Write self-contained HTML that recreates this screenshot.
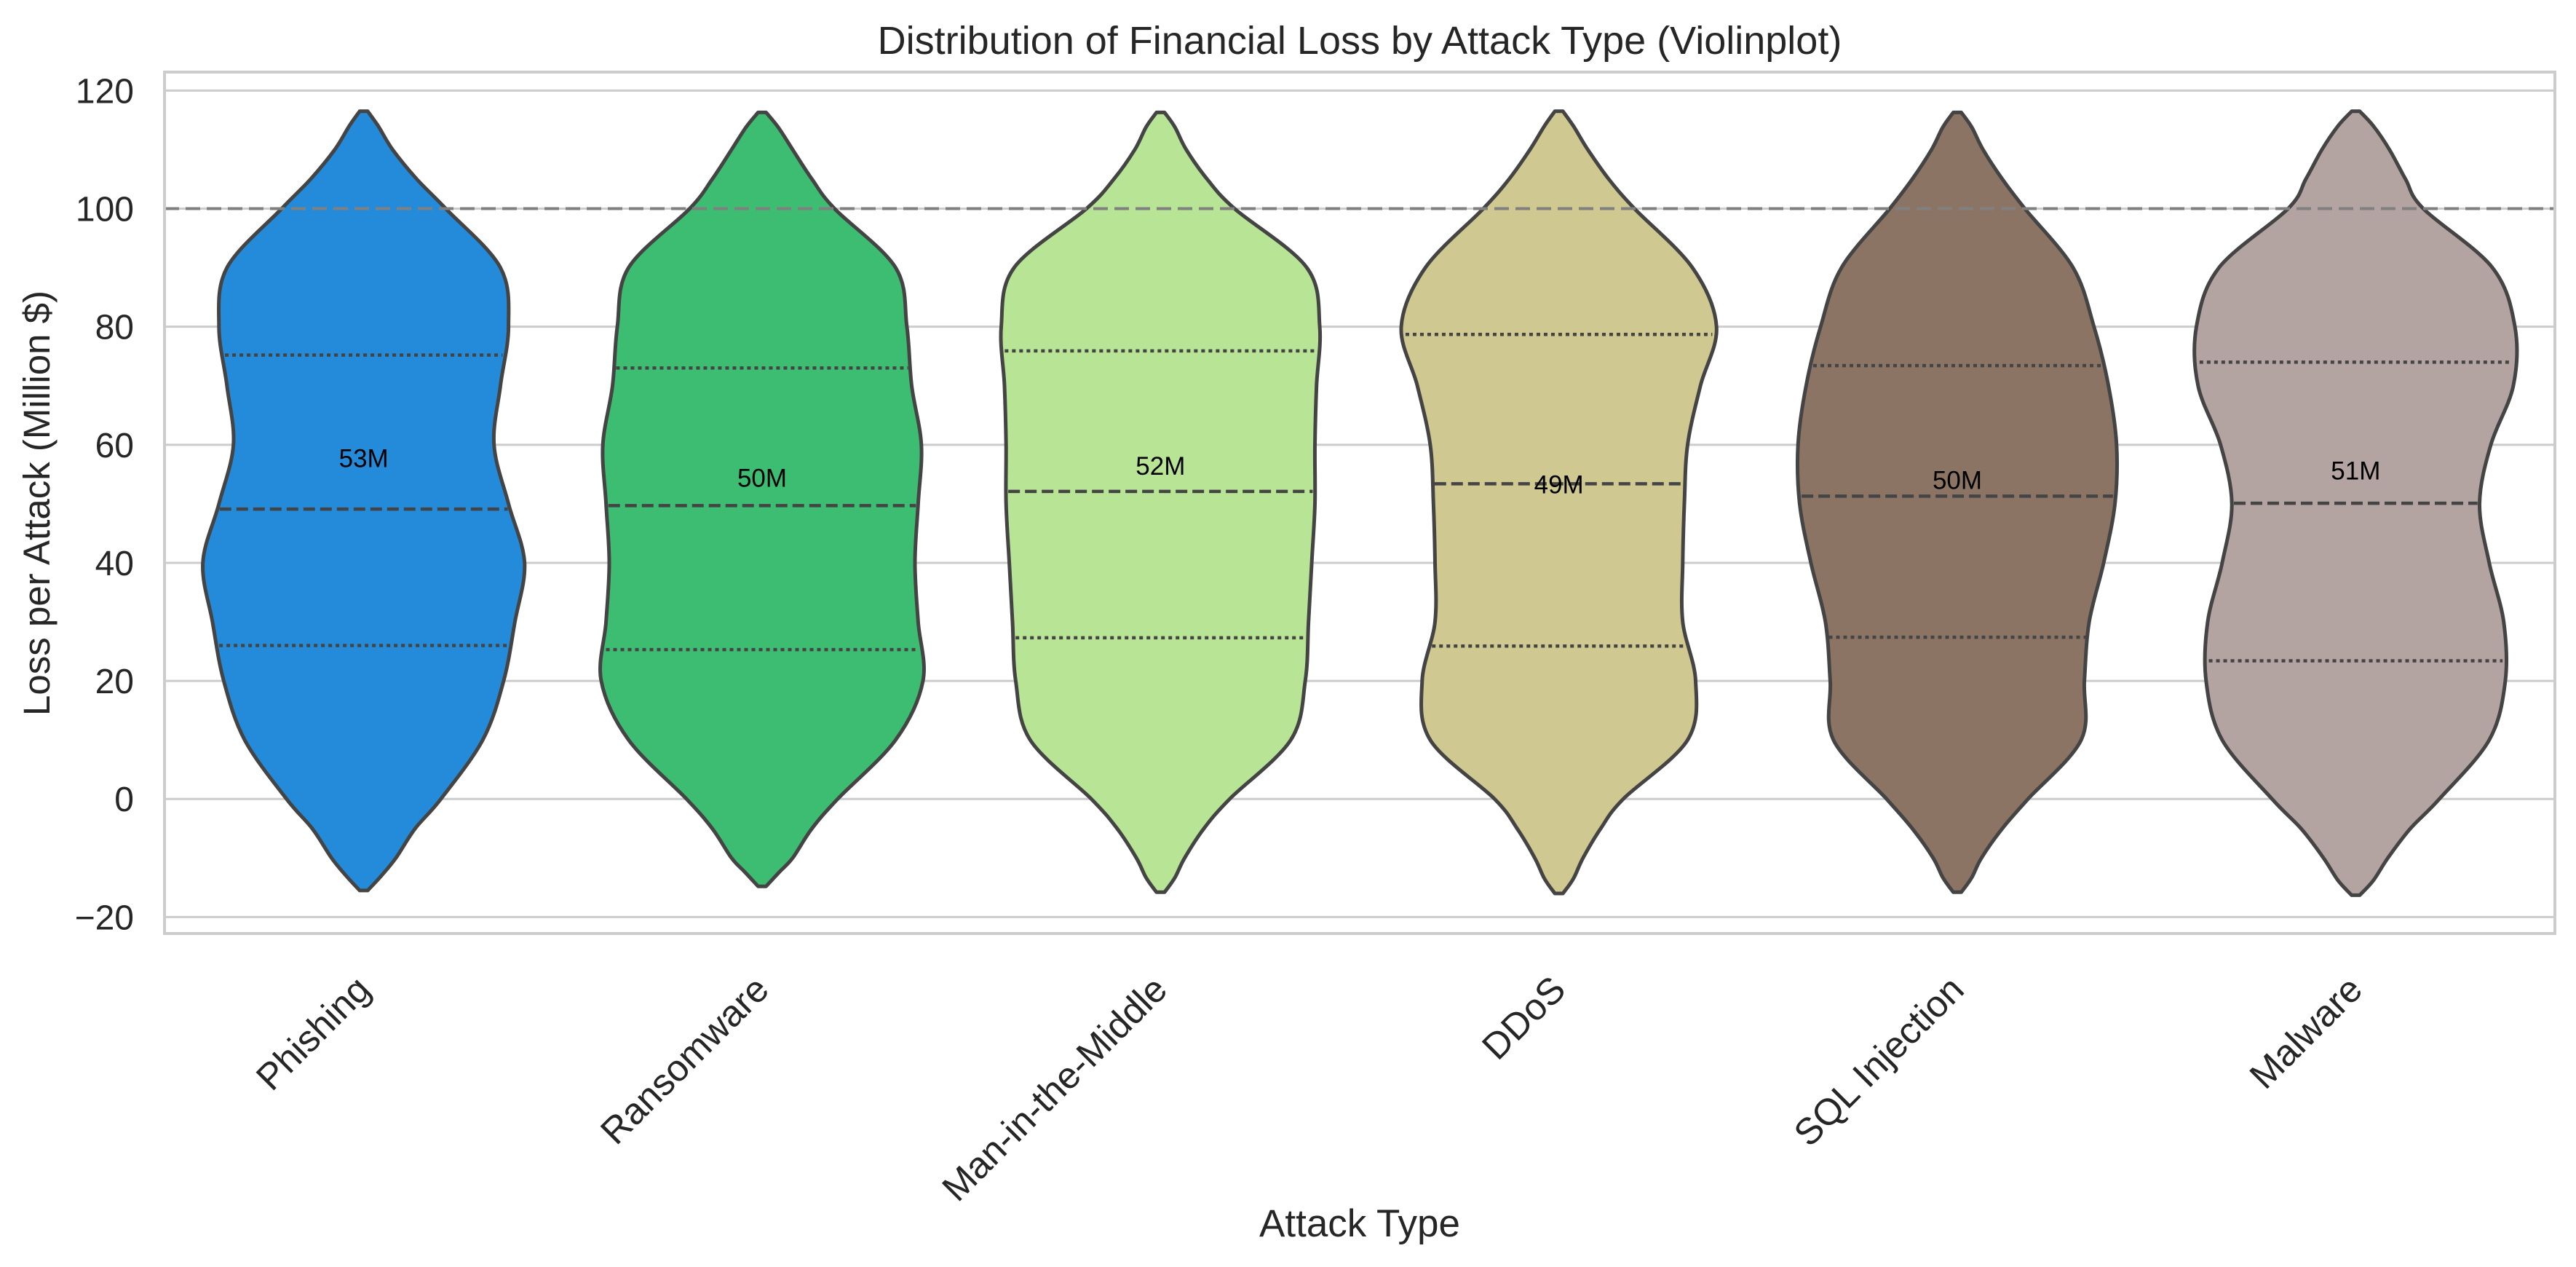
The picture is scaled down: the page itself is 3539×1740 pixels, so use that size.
<!DOCTYPE html>
<html><head><meta charset="utf-8"><style>
html,body{margin:0;padding:0;background:#fff;}
svg{display:block;font-family:"Liberation Sans",Arial,sans-serif;}
</style></head><body>
<svg id="chart" width="3539" height="1740" viewBox="0 0 3539 1740" xmlns="http://www.w3.org/2000/svg">
<rect x="0" y="0" width="3539" height="1740" fill="#fff"/>
<text x="1868" y="74" font-size="54" fill="#262626" text-anchor="middle">Distribution of Financial Loss by Attack Type (Violinplot)</text>
<text transform="translate(68,691) rotate(-90)" font-size="51" fill="#262626" text-anchor="middle">Loss per Attack (Million $)</text>
<text x="1868" y="1698" font-size="53" fill="#262626" text-anchor="middle">Attack Type</text>
<g id="grid"></g>
<g id="violins"></g>
<g id="xlabels"></g>
<rect x="226" y="99" width="3284" height="1183" fill="none" stroke="#cccccc" stroke-width="4"/>
</svg>
<script>
const categories = ["Phishing","Ransomware","Man-in-the-Middle","DDoS","SQL Injection","Malware"];
const colors = ["#238bda","#3dbd71","#b8e496","#cfc890","#8b7463","#b3a3a1"];
const yTicks = [-20,0,20,40,60,80,100,120];
const kdeY = [-10,-5,0,10,20,30,40,50,60,70,80,90,100,105,110];
const widthPhishing = [0.20,0.32,0.48,0.74,0.87,0.94,1.0,0.90,0.81,0.85,0.90,0.85,0.51,0.33,0.18];
const widthRansomware = [0.19,0.31,0.47,0.83,1.0,0.97,0.95,0.97,0.99,0.93,0.90,0.83,0.45,0.31,0.19];
const widthMitM = [0.15,0.27,0.43,0.81,0.90,0.92,0.94,0.96,0.96,0.97,0.99,0.91,0.46,0.29,0.16];
const widthDDoS = [0.15,0.26,0.40,0.80,0.85,0.77,0.77,0.78,0.80,0.88,0.98,0.83,0.47,0.31,0.18];
const widthSQL = [0.15,0.28,0.44,0.77,0.79,0.82,0.91,0.98,0.99,0.94,0.85,0.72,0.42,0.28,0.16];
const widthMalware = [0.20,0.34,0.52,0.83,0.93,0.92,0.83,0.77,0.84,0.98,0.99,0.85,0.42,0.31,0.21];
const nearTipLow = [0.11,0.11,0.09,0.09,0.09,0.11];
const nearTipHigh = [0.09,0.10,0.09,0.09,0.09,0.11];
const minVals = [-15.5,-14.8,-15.8,-16,-15.8,-16.3];
const maxVals = [116.5,116.3,116.3,116.5,116.3,116.5];
const q1 = [26.0,25.3,27.3,25.9,27.4,23.4];
const medians = [49.1,49.7,52.1,53.4,51.3,50.1];
const q3 = [75.2,73.0,75.9,78.7,73.4,74.0];
const labelVals = [57.8,54.5,56.5,53.4,54.1,55.7];
const labelTexts = ["53M","50M","52M","49M","50M","51M"];
const refLine = 100;

const widths = [widthPhishing,widthRansomware,widthMitM,widthDDoS,widthSQL,widthMalware];
const NS = "http://www.w3.org/2000/svg";
const L = 226, R = 3510, T = 99, B = 1282;
function yScale(v){ return 124.4 + (120 - v) * 8.107; }
const band = (R - L) / categories.length;
function xScale(i){ return L + band * (i + 0.5); }
const maxHalf = 221;
function mk(tag, attrs, parent){ const e = document.createElementNS(NS, tag); for (const k in attrs) e.setAttribute(k, attrs[k]); parent.appendChild(e); return e; }

const grid = document.getElementById('grid');
yTicks.forEach(t => {
  const y = yScale(t);
  const gl = mk('line', {x1:L, x2:R, y1:y, y2:y, stroke:'#cccccc', 'stroke-width':3}, grid);
  
  
  const tl = mk('text', {x:184, y:y+17, 'font-size':48, fill:'#262626', 'text-anchor':'end'}, grid);
  tl.textContent = t < 0 ? '\u2212' + Math.abs(t) : String(t);
  
  
});

const vg = document.getElementById('violins');
function pts(i){
  const w = widths[i];
  const arr = [{v:minVals[i], w:0.025}, {v:minVals[i]+2.5, w:nearTipLow[i]}];
  kdeY.forEach((v,k) => arr.push({v:v, w:w[k]}));
  arr.push({v:maxVals[i]-2.5, w:nearTipHigh[i]});
  arr.push({v:maxVals[i], w:0.025});
  return arr;
}
function widthAt(i, v){
  const a = pts(i);
  for (let k=0;k<a.length-1;k++){
    if (v >= a[k].v && v <= a[k+1].v){ const t=(v-a[k].v)/(a[k+1].v-a[k].v); return a[k].w + t*(a[k+1].w-a[k].w); }
  }
  return 0;
}
function crPath(P){
  let d = '';
  for (let k=0;k<P.length-1;k++){
    const p0 = P[Math.max(0,k-1)], p1 = P[k], p2 = P[k+1], p3 = P[Math.min(P.length-1,k+2)];
    const c1 = [p1[0]+(p2[0]-p0[0])/6, p1[1]+(p2[1]-p0[1])/6];
    const c2 = [p2[0]-(p3[0]-p1[0])/6, p2[1]-(p3[1]-p1[1])/6];
    d += ` C${c1[0].toFixed(1)},${c1[1].toFixed(1)} ${c2[0].toFixed(1)},${c2[1].toFixed(1)} ${p2[0].toFixed(1)},${p2[1].toFixed(1)}`;
  }
  return d;
}
categories.forEach((c,i) => {
  const cx = xScale(i);
  const a = pts(i);
  const right = a.map(p => [cx + p.w*maxHalf, yScale(p.v)]);
  const left = a.slice().reverse().map(p => [cx - p.w*maxHalf, yScale(p.v)]);
  let d = `M${right[0][0].toFixed(1)},${right[0][1].toFixed(1)}` + crPath(right) +
          ` L${left[0][0].toFixed(1)},${left[0][1].toFixed(1)}` + crPath(left) + ' Z';
  const g = mk('g', {}, vg);
  
  
  mk('path', {d:d, fill:colors[i], stroke:'#444444', 'stroke-width':5, 'stroke-linejoin':'round'}, g);
  [[q1[i],'5,5','q1'],[medians[i],'16,7','median'],[q3[i],'5,5','q3']].forEach(([v,dash,nm]) => {
    const hw = widthAt(i, v)*maxHalf - 3;
    const y = yScale(v);
    const ln = mk('line', {x1:cx-hw, x2:cx+hw, y1:y, y2:y, stroke:'#444444', 'stroke-width':4.5, 'stroke-dasharray':dash}, g);
    
    
  });
  const lb = mk('text', {x:cx, y:yScale(labelVals[i])+13, 'font-size':35, fill:'#000', 'text-anchor':'middle'}, g);
  lb.textContent = labelTexts[i];
  
  
});

const rl = mk('line', {x1:L, x2:R, y1:yScale(refLine), y2:yScale(refLine), stroke:'#808080', 'stroke-width':4, 'stroke-dasharray':'20,9'}, vg);



const xl = document.getElementById('xlabels');
categories.forEach((c,i) => {
  const x = xScale(i) + 12, y = 1362;
  const t = mk('text', {x:x, y:y, 'font-size':51, fill:'#262626', 'text-anchor':'end', transform:`rotate(-45 ${x} ${y})`}, xl);
  t.textContent = c;
  
  
});
</script>
</body></html>
